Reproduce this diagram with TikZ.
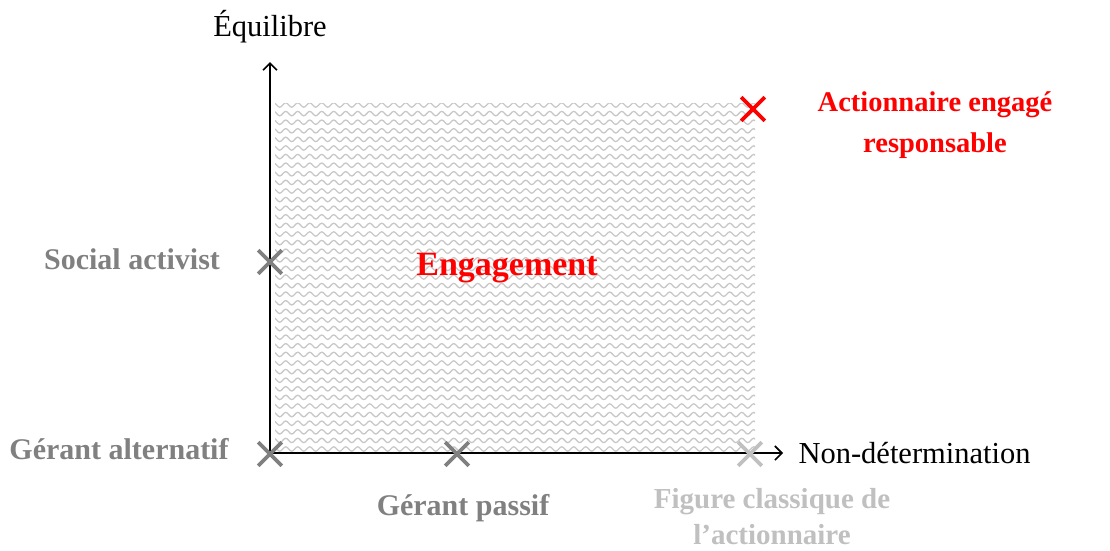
\documentclass[tikz,border=0pt]{standalone}
\usepackage{fontspec}
\setmainfont{Liberation Serif}
\usetikzlibrary{arrows.meta,shapes.misc,decorations.pathmorphing}
\definecolor{midgray}{RGB}{128,128,128}
\definecolor{lightgraytxt}{RGB}{192,192,192}
\definecolor{wavegray}{RGB}{200,200,200}
\begin{document}
\begin{tikzpicture}[x=1pt,y=-1pt,
  axis/.style={line width=1.8pt,-{Straight Barb[length=7pt,width=14pt,line width=1.6pt]}},
  xmark/.style={cross out,draw=#1,line width=3.6pt,minimum size=20pt,inner sep=0pt},
  lab/.style={font=\fontsize{30}{38}\selectfont\bfseries,align=center},
  axlab/.style={font=\fontsize{30.5}{34}\selectfont}]
\useasboundingbox (0,0) rectangle (1110,550);
% hatched region
\begin{scope}
\clip (275,103) rectangle (755,453);
\foreach \yy in {105,113.6,...,460}{
  \draw[wavegray,line width=1.3pt,decorate,decoration={snake,amplitude=2.2pt,segment length=12pt}] (270,\yy) -- (760,\yy);
}
\end{scope}
% axes
\coordinate (O) at (270,453);
\coordinate (Ytop) at (270,62);
\coordinate (Xend) at (783,453);
\draw[axis] (O) -- (Ytop);
\draw[axis] (O) -- (Xend);
% axis labels
\node[axlab,anchor=south] (ylab) at (270,47) {Équilibre};
\node[axlab,anchor=west] (xlab) at (795,453) {Non-détermination};
% marks
\node[xmark=midgray] (m1) at (270,262) {};
\node[xmark=midgray] (m2) at (270,454) {};
\node[xmark=midgray] (m3) at (457,454) {};
\node[xmark=lightgraytxt] (m4) at (750,454) {};
\node[xmark=red] (m5) at (753,109) {};
% labels
\node[lab,text=midgray] (t1) at (132,259) {Social activist};
\node[lab,text=midgray] (t2) at (119,449) {Gérant alternatif};
\node[lab,text=midgray] (t3) at (463,508) {Gérant passif};
\node[lab,text=lightgraytxt,font=\fontsize{29}{36}\selectfont\bfseries] (t4) at (772,517) {Figure classique de\\l’actionnaire};
\node[lab,text=red,font=\fontsize{28.5}{41}\selectfont\bfseries] (t5) at (935,125) {Actionnaire engagé\\responsable};
\node[lab,text=red,font=\fontsize{34}{40}\selectfont\bfseries] (t6) at (507,268) {Engagement};
\end{tikzpicture}
\end{document}
